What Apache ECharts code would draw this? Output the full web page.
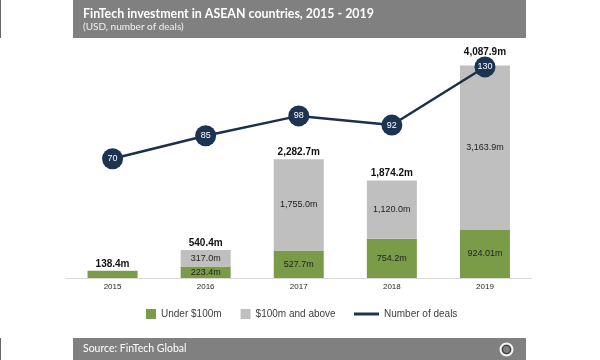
<!DOCTYPE html>
<html>
<head>
<meta charset="utf-8">
<script src="https://cdn.jsdelivr.net/npm/echarts@6/dist/echarts.min.js"></script>
<style>html,body{margin:0;padding:0;background:#fff}#c{width:600px;height:360px}</style>
</head>
<body>
<div id="c"></div>
<script>
var categories = ['2015', '2016', '2017', '2018', '2019'];
var underValues = [138.4, 223.4, 527.7, 754.2, 924.01];
var aboveValues = [0, 317.0, 1755.0, 1120.0, 3163.9];
var totalValues = [138.4, 540.4, 2282.7, 1874.2, 4087.9];
var dealValues = [70, 85, 98, 92, 130];

function fmt(v) {
  return v.toLocaleString('en-US', {minimumFractionDigits: 1, maximumFractionDigits: 2}) + 'm';
}

var chart = echarts.init(document.getElementById('c'), null, {renderer: 'canvas'});
var innerFont = "'Liberation Sans Narrow', 'Liberation Sans', sans-serif";

var option = {
  animation: false,
  backgroundColor: '#ffffff',
  grid: {left: 66, right: 68.5, top: 44, bottom: 82, containLabel: false},
  xAxis: {
    type: 'category',
    data: categories,
    axisLine: {show: true, lineStyle: {color: '#d9d9d9', width: 1}},
    axisTick: {show: false},
    axisLabel: {color: '#262626', fontSize: 8, fontFamily: 'Liberation Sans', margin: 5}
  },
  yAxis: [
    {type: 'value', min: 0, max: 4500, show: false, splitLine: {show: false}},
    {type: 'value', min: -8, max: 145, show: false, splitLine: {show: false}}
  ],
  legend: [
    {
      data: [{name: 'Under $100m', icon: 'rect'}, {name: '$100m and above', icon: 'rect'}],
      left: 141, top: 304, itemWidth: 10, itemHeight: 10, itemGap: 19,
      textStyle: {color: '#404040', fontSize: 10, fontFamily: 'Liberation Sans'}
    },
    {
      data: [{name: 'Number of deals', icon: 'rect'}],
      left: 349, top: 304, itemWidth: 25, itemHeight: 3, itemGap: 10,
      textStyle: {color: '#404040', fontSize: 10, fontFamily: 'Liberation Sans'}
    }
  ],
  series: [
    {
      name: 'Under $100m', type: 'bar', stack: 'inv', barWidth: 50,
      itemStyle: {color: '#7a9b48'},
      data: underValues.map(function (v, i) {
        return {value: v, label: {show: i !== 0}};
      }),
      label: {position: 'inside', color: '#222', fontSize: 9, fontFamily: innerFont,
        formatter: function (p) { return fmt(p.value); }}
    },
    {
      name: '$100m and above', type: 'bar', stack: 'inv', barWidth: 50,
      itemStyle: {color: '#bfbfbf'},
      data: aboveValues.map(function (v) { return {value: v, label: {show: v > 0}}; }),
      label: {position: 'inside', color: '#222', fontSize: 9, fontFamily: innerFont,
        formatter: function (p) { return fmt(p.value); }}
    },
    {
      name: 'Total', type: 'bar', barWidth: 50, barGap: '-100%', silent: true,
      itemStyle: {color: 'rgba(0,0,0,0)'},
      data: totalValues.map(function (v, i) {
        return {value: v, label: {distance: i === 4 ? 8 : 2}};
      }),
      label: {show: true, position: 'top', color: '#111', fontSize: 10, fontWeight: 'bold',
        fontFamily: 'Liberation Sans', formatter: function (p) { return fmt(p.value); }},
      z: 1
    },
    {
      name: 'Number of deals', type: 'line', yAxisIndex: 1, z: 5,
      data: dealValues,
      symbol: 'circle', symbolSize: 21,
      lineStyle: {color: '#1c2f4d', width: 2.5},
      itemStyle: {color: '#1d3352'},
      label: {show: true, position: 'inside', color: '#ffffff', fontSize: 9, fontFamily: 'Liberation Sans'}
    }
  ],
  graphic: [
    {type: 'rect', shape: {x: 73, y: 0, width: 453, height: 38}, style: {fill: '#808080'}, silent: true},
    {type: 'rect', shape: {x: 0, y: 0, width: 1, height: 38}, style: {fill: '#666'}, silent: true},
    {type: 'text', x: 83, y: 14, style: {text: 'FinTech investment in ASEAN countries, 2015 - 2019',
      fill: '#ffffff', font: 'bold 12.4px Lato', verticalAlign: 'middle'}, silent: true},
    {type: 'text', x: 83, y: 27, style: {text: '(USD, number of deals)',
      fill: '#f2f2f2', font: '10px Lato', verticalAlign: 'middle'}, silent: true},
    {type: 'rect', shape: {x: 73, y: 338, width: 453, height: 22}, style: {fill: '#808080'}, silent: true},
    {type: 'rect', shape: {x: 0, y: 338, width: 1, height: 22}, style: {fill: '#666'}, silent: true},
    {type: 'text', x: 83, y: 349, style: {text: 'Source: FinTech Global',
      fill: '#ffffff', font: '10.5px Lato', verticalAlign: 'middle'}, silent: true},
    {type: 'circle', shape: {cx: 506.5, cy: 349.5, r: 6}, style: {fill: 'none', stroke: '#f4f4f4', lineWidth: 2}, silent: true},
    {type: 'circle', shape: {cx: 506.5, cy: 349.5, r: 4}, style: {fill: 'none', stroke: '#3a3a3a', lineWidth: 1.2}, silent: true}
  ]
};
chart.setOption(option);
</script>
</body>
</html>
